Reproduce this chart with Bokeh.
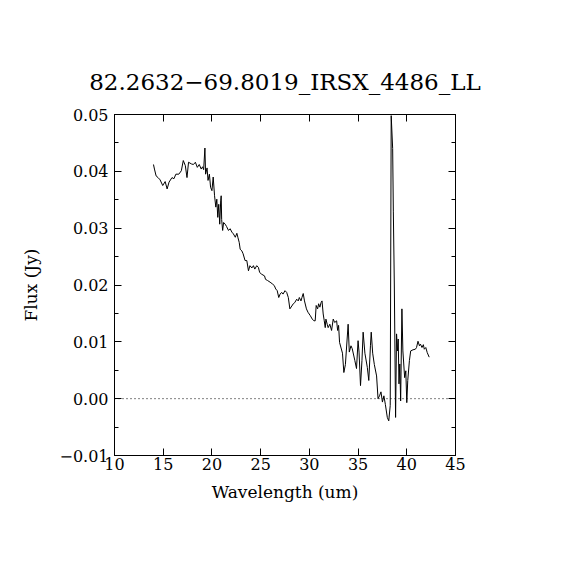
from bokeh.plotting import figure
from bokeh.models import LinearAxis, FixedTicker, Span, Range1d
from bokeh.embed import file_html
from bokeh.resources import INLINE

title_text = "82.2632\u221269.8019_IRSX_4486_LL"
x_label = "Wavelength (um)"
y_label = "Flux (Jy)"
x_ticks = [10, 15, 20, 25, 30, 35, 40, 45]
y_ticks = [-0.01, 0.0, 0.01, 0.02, 0.03, 0.04, 0.05]
y_tick_labels = ["\u22120.01", "0.00", "0.01", "0.02", "0.03", "0.04", "0.05"]
y_minor = [-0.005, 0.005, 0.015, 0.025, 0.035, 0.045]

wavelength = [
    14.0, 14.1, 14.27, 14.47, 14.68, 14.95, 15.2, 15.4, 15.6, 15.9,
    16.1, 16.3, 16.6, 16.86, 17.06, 17.27, 17.44, 17.6, 17.9, 18.1,
    18.3, 18.5, 18.7, 18.9, 19.04, 19.15, 19.28, 19.35, 19.5, 19.6,
    19.74, 19.86, 20.0, 20.13, 20.27, 20.4, 20.5, 20.6, 20.7, 20.8,
    20.9, 20.95, 21.0, 21.1, 21.2, 21.36, 21.5, 21.7, 21.87, 22.05,
    22.2, 22.4, 22.56, 22.66, 22.8, 22.9, 23.07, 23.2, 23.4, 23.58,
    23.75, 23.9, 24.1, 24.26, 24.4, 24.6, 24.77, 24.9, 25.1, 25.4,
    25.5, 25.7, 25.97, 26.2, 26.4, 26.55, 26.7, 26.86, 27.0, 27.16,
    27.3, 27.5, 27.67, 27.84, 28.0, 28.2, 28.35, 28.5, 28.7, 28.86,
    28.97, 29.14, 29.24, 29.37, 29.5, 29.7, 29.86, 30.1, 30.3, 30.47,
    30.6, 30.7, 30.85, 30.95, 31.08, 31.2, 31.3, 31.42, 31.53, 31.63,
    31.7, 31.83, 31.93, 32.1, 32.28, 32.45, 32.6, 32.8, 32.9, 33.0,
    33.1, 33.4, 33.54, 33.7, 33.98, 34.1, 34.27, 34.4, 34.67, 34.84,
    35.0, 35.1, 35.25, 35.4, 35.52, 35.7, 35.95, 36.1, 36.27, 36.35,
    36.5, 36.67, 36.9, 37.05, 37.2, 37.35, 37.5, 37.65, 37.8, 38.0,
    38.15, 38.3, 38.4, 38.55, 38.62, 38.72, 38.85, 38.95, 39.05, 39.12,
    39.2, 39.28, 39.37, 39.5, 39.6, 39.78, 39.9, 40.0, 40.1, 40.27,
    40.4, 40.64, 40.88, 41.0, 41.15, 41.3, 41.4, 41.56, 41.7, 41.8,
    41.95, 42.1, 42.3,
]
flux = [
    0.0412, 0.0404, 0.0392, 0.0389, 0.0385, 0.0375, 0.0382, 0.0369, 0.0381, 0.0389,
    0.0387, 0.0395, 0.0395, 0.0401, 0.0419, 0.0410, 0.0389, 0.0416, 0.0413, 0.0412,
    0.0416, 0.0407, 0.0412, 0.0404, 0.0408, 0.0403, 0.0441, 0.0395, 0.0406, 0.0384,
    0.0395, 0.0372, 0.0366, 0.0390, 0.0357, 0.0337, 0.0351, 0.0319, 0.0342, 0.0307,
    0.0348, 0.0357, 0.0315, 0.0296, 0.0310, 0.0307, 0.0303, 0.0296, 0.0299, 0.0293,
    0.0290, 0.0284, 0.0291, 0.0284, 0.0275, 0.0263, 0.0260, 0.0255, 0.0243, 0.0243,
    0.0225, 0.0234, 0.0230, 0.0234, 0.0228, 0.0234, 0.0231, 0.0222, 0.0219, 0.0216,
    0.0210, 0.0208, 0.0205, 0.0202, 0.0199, 0.0193, 0.0190, 0.0178, 0.0184, 0.0187,
    0.0184, 0.0190, 0.0187, 0.0178, 0.0158, 0.0163, 0.0167, 0.0169, 0.0175, 0.0172,
    0.0178, 0.0172, 0.0178, 0.0185, 0.0172, 0.0158, 0.0152, 0.0146, 0.0140, 0.0137,
    0.0137, 0.0164, 0.0158, 0.0167, 0.0161, 0.0169, 0.0172, 0.0149, 0.0137, 0.0125,
    0.0140, 0.0131, 0.0125, 0.0131, 0.0120, 0.0140, 0.0134, 0.0137, 0.0120, 0.0129,
    0.0099, 0.0080, 0.0046, 0.0060, 0.0131, 0.0082, 0.0093, 0.0088, 0.0067, 0.0053,
    0.0102, 0.0082, 0.0023, 0.0067, 0.0117, 0.0080, 0.0055, 0.0032, 0.0093, 0.0117,
    0.0080, 0.0060, 0.0040, 0.0000, 0.0005, 0.0012, -0.0006, 0.0005, -0.0010, -0.0033,
    -0.0039, -0.0012, 0.0498, 0.0440, 0.0330, 0.0200, -0.0033, 0.0114, 0.0084, 0.0105,
    0.0026, 0.0061, -0.0004, 0.0158, 0.0084, 0.0037, 0.0049, -0.0007, 0.0032, 0.0067,
    0.0084, 0.0086, 0.0087, 0.0090, 0.0101, 0.0093, 0.0096, 0.0090, 0.0095, 0.0087,
    0.0090, 0.0081, 0.0073,
]

FONT = "DejaVu Serif"

p = figure(width=554, height=554, output_backend="svg", toolbar_location=None,
           x_range=Range1d(10, 45), y_range=Range1d(-0.01, 0.05),
           min_border_left=114, min_border_right=99,
           min_border_top=114, min_border_bottom=99,
           x_axis_location=None, y_axis_location=None)
p.background_fill_color = "white"
p.border_fill_color = "white"
p.outline_line_color = "black"
p.outline_line_width = 1
p.xgrid.visible = False
p.ygrid.visible = False

p.title.text = title_text
p.title.text_font = FONT
p.title.text_font_size = "23px"
p.title.text_font_style = "normal"
p.title.align = "center"
p.title.text_color = "black"
p.title.standoff = 39


def style_axis(ax, ticks, minor, labels=True, overrides=None):
    ax.ticker = FixedTicker(ticks=ticks, minor_ticks=minor)
    ax.major_tick_in = 7
    ax.major_tick_out = 0
    ax.minor_tick_in = 4
    ax.minor_tick_out = 0
    ax.axis_line_color = "black"
    ax.major_tick_line_color = "black"
    ax.minor_tick_line_color = "black"
    ax.major_label_text_font = FONT
    ax.major_label_text_font_size = "16px"
    ax.major_label_text_color = "black" if labels else None
    ax.axis_label_text_font = FONT
    ax.axis_label_text_font_size = "17px"
    ax.axis_label_text_font_style = "normal"
    ax.axis_label_text_color = "black"
    if overrides:
        ax.major_label_overrides = overrides


bottom = LinearAxis(axis_label=x_label)
style_axis(bottom, x_ticks, [])
bottom.major_label_standoff = 2
bottom.axis_label_standoff = 9
p.add_layout(bottom, "below")

left = LinearAxis(axis_label=y_label)
style_axis(left, y_ticks, y_minor,
           overrides={t: s for t, s in zip(y_ticks, y_tick_labels)})
left.major_label_standoff = 6
left.axis_label_standoff = 15
p.add_layout(left, "left")

top = LinearAxis()
style_axis(top, x_ticks, [], labels=False)
top.major_label_text_font_size = "0px"
p.add_layout(top, "above")

right = LinearAxis()
style_axis(right, y_ticks, y_minor, labels=False)
right.major_label_text_font_size = "0px"
p.add_layout(right, "right")

zero = Span(location=0, dimension="width", line_color="black",
            line_width=1, line_dash="1 3")
p.add_layout(zero)

p.line(wavelength, flux, line_color="black", line_width=1)

open("out.html", "w").write(file_html(p, INLINE))
